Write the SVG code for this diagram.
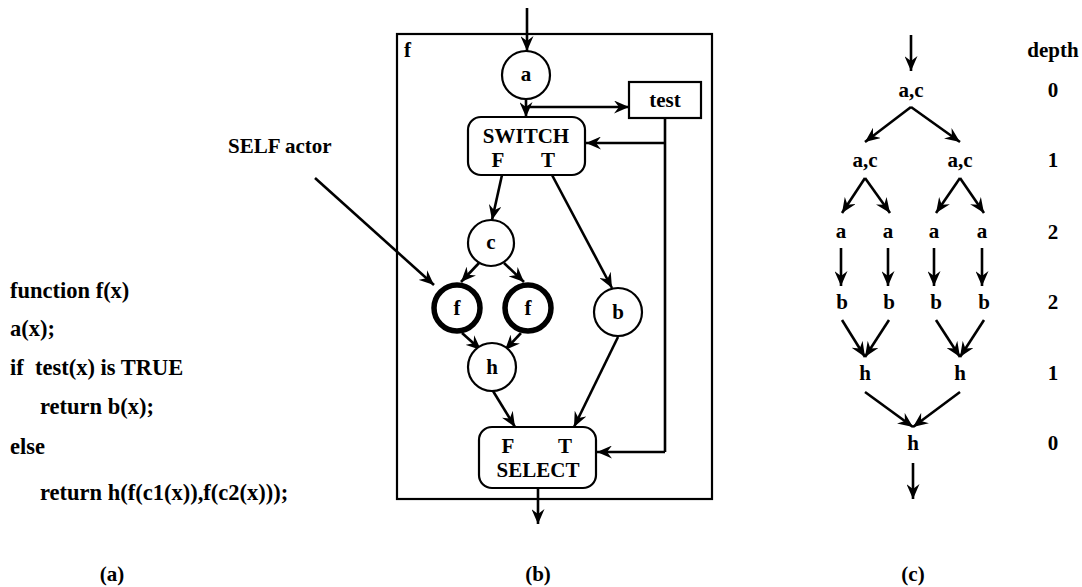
<svg xmlns="http://www.w3.org/2000/svg" width="1082" height="587" viewBox="0 0 1082 587">
<style>
text{font-family:"Liberation Serif","Times New Roman",serif;font-weight:bold;font-size:21px;fill:#000}
.code{font-size:22.5px}
.m{text-anchor:middle}
.n{fill:#fff;stroke:#000;stroke-width:2.2}
.self{fill:#fff;stroke:#000;stroke-width:5.5}
.e{fill:none;stroke:#000;stroke-width:2.6;marker-end:url(#ah)}
.p{fill:none;stroke:#000;stroke-width:2.6}
</style>
<defs>
<marker id="ah" markerUnits="userSpaceOnUse" markerWidth="16" markerHeight="13" refX="15" refY="6.5" orient="auto">
<path d="M0,0 L15,6.5 L0,13 L5,6.5 Z" fill="#000"/>
</marker>
</defs>
<rect width="1082" height="587" fill="#fff"/>

<!-- panel (a) -->
<g id="code" class="code">
<text class="code" x="10" y="298">function f(x)</text>
<text class="code" x="10" y="336">a(x);</text>
<text class="code" x="10" y="375">if</text>
<text class="code" x="35" y="375">test(x) is TRUE</text>
<text class="code" x="40" y="414">return b(x);</text>
<text class="code" x="10" y="454">else</text>
<text class="code" x="40" y="500">return h(f(c1(x)),f(c2(x)));</text>
<text class="m" x="112" y="581">(a)</text>
</g>

<!-- panel (b) -->
<g id="frame">
<rect x="397" y="34" width="315" height="465" fill="none" stroke="#000" stroke-width="2.2"/>
<text x="404" y="57">f</text>
</g>
<g id="selflabel"><text x="228" y="153">SELF actor</text></g>
<g id="connectors-b">
<line class="e" x1="527" y1="8" x2="527" y2="51"/>
<line class="e" x1="526" y1="99" x2="526" y2="117"/>
<line class="e" x1="526" y1="107" x2="629" y2="107"/>
<path class="p" d="M665,118 V452"/>
<line class="e" x1="665" y1="143" x2="586" y2="143"/>
<line class="e" x1="665" y1="452" x2="597" y2="452"/>
<line class="e" x1="502" y1="175" x2="492" y2="220"/>
<line class="e" x1="552" y1="175" x2="612" y2="288"/>
<line class="e" x1="479" y1="263" x2="461" y2="282"/>
<line class="e" x1="504" y1="263" x2="524" y2="282"/>
<line class="e" x1="462" y1="333" x2="481" y2="350"/>
<line class="e" x1="521" y1="333" x2="505" y2="350"/>
<line class="e" x1="493" y1="391" x2="515" y2="427"/>
<line class="e" x1="618" y1="337" x2="574" y2="427"/>
<line class="e" x1="538" y1="488" x2="538" y2="524"/>
<line class="e" x1="315" y1="178" x2="434" y2="285"/>
</g>
<g id="a"><circle class="n" cx="526" cy="75" r="24"/><text class="m" x="526" y="81">a</text></g>
<g id="test"><rect class="n" x="629" y="82" width="72" height="36"/><text class="m" x="665" y="107">test</text></g>
<g id="switch"><rect class="n" x="468" y="117" width="117" height="58" rx="13"/><text class="m" x="526" y="143">SWITCH</text><text class="m" x="498" y="167">F</text><text class="m" x="548" y="167">T</text></g>
<g id="c"><circle class="n" cx="491" cy="243" r="23"/><text class="m" x="491" y="249">c</text></g>
<g id="f1"><circle class="self" cx="457" cy="308" r="23"/><text class="m" x="457" y="315">f</text></g>
<g id="f2"><circle class="self" cx="528" cy="308" r="23"/><text class="m" x="528" y="315">f</text></g>
<g id="b"><circle class="n" cx="618" cy="312" r="24"/><text class="m" x="618" y="319">b</text></g>
<g id="h"><circle class="n" cx="492" cy="367" r="24"/><text class="m" x="492" y="374">h</text></g>
<g id="select"><rect class="n" x="479" y="427" width="117" height="61" rx="13"/><text class="m" x="508" y="453">F</text><text class="m" x="565" y="453">T</text><text class="m" x="538" y="477">SELECT</text></g>
<g id="label-b"><text class="m" x="538" y="581">(b)</text></g>

<!-- panel (c) -->
<g id="connectors-c">
<line class="e" x1="911" y1="35" x2="911" y2="71"/>
<line class="e" x1="911" y1="107" x2="865" y2="142"/>
<line class="e" x1="911" y1="107" x2="960" y2="142"/>
<line class="e" x1="865" y1="178" x2="842" y2="213"/>
<line class="e" x1="865" y1="178" x2="890" y2="213"/>
<line class="e" x1="960" y1="178" x2="936" y2="213"/>
<line class="e" x1="960" y1="178" x2="984" y2="213"/>
<line class="e" x1="841" y1="248" x2="841" y2="286"/>
<line class="e" x1="888" y1="248" x2="888" y2="286"/>
<line class="e" x1="934" y1="248" x2="934" y2="286"/>
<line class="e" x1="982" y1="248" x2="982" y2="286"/>
<line class="e" x1="842" y1="320" x2="865" y2="357"/>
<line class="e" x1="889" y1="320" x2="865" y2="357"/>
<line class="e" x1="936" y1="320" x2="960" y2="357"/>
<line class="e" x1="984" y1="320" x2="960" y2="357"/>
<line class="e" x1="865" y1="392" x2="913" y2="427"/>
<line class="e" x1="960" y1="392" x2="913" y2="427"/>
<line class="e" x1="913" y1="463" x2="913" y2="499"/>
</g>
<g id="c-ac0"><text class="m" x="911" y="97">a,c</text></g>
<g id="c-ac1"><text class="m" x="865" y="167">a,c</text></g>
<g id="c-ac2"><text class="m" x="960" y="167">a,c</text></g>
<g id="c-a1"><text class="m" x="841" y="238">a</text></g>
<g id="c-a2"><text class="m" x="888" y="238">a</text></g>
<g id="c-a3"><text class="m" x="934" y="238">a</text></g>
<g id="c-a4"><text class="m" x="982" y="238">a</text></g>
<g id="c-b1"><text class="m" x="842" y="309">b</text></g>
<g id="c-b2"><text class="m" x="889" y="309">b</text></g>
<g id="c-b3"><text class="m" x="936" y="309">b</text></g>
<g id="c-b4"><text class="m" x="984" y="309">b</text></g>
<g id="c-h1"><text class="m" x="865" y="380">h</text></g>
<g id="c-h2"><text class="m" x="960" y="380">h</text></g>
<g id="c-h0"><text class="m" x="913" y="450">h</text></g>
<g id="depth">
<text class="m" x="1053" y="57">depth</text>
<text class="m" x="1053" y="97">0</text>
<text class="m" x="1053" y="167">1</text>
<text class="m" x="1053" y="239">2</text>
<text class="m" x="1053" y="309">2</text>
<text class="m" x="1053" y="380">1</text>
<text class="m" x="1053" y="450">0</text>
</g>
<g id="label-c"><text class="m" x="913" y="581">(c)</text></g>
</svg>
